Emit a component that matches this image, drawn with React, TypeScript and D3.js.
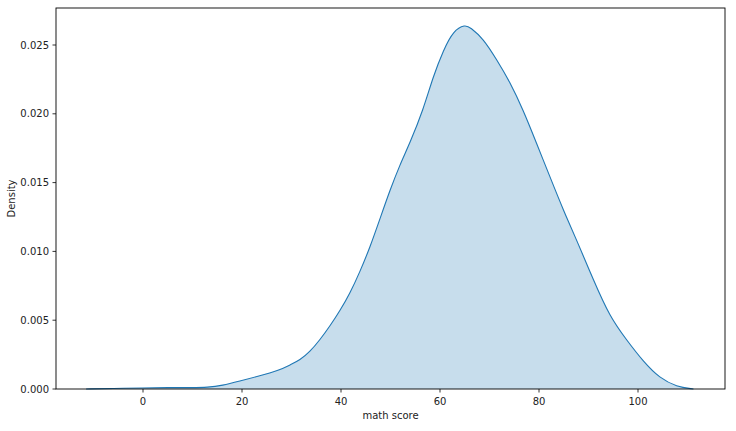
import React from "react";
import * as d3 from "d3";

const scores = [-11.5, -6, 0, 5, 10, 13, 16, 19.6, 23, 27.7, 29.7, 31.7, 33.7, 35.8, 37.8, 39.8, 41.8, 43.8, 45.9, 47.9, 49.9, 51.9, 53.9, 56.6, 58.6, 60.7, 62.7, 65.1, 66.1, 68.7, 71.5, 74.1, 76.8, 79.5, 82.2, 84.9, 87.6, 91.0, 94.3, 97.7, 101.1, 104.4, 107.8, 111.2];
const density = [0, 0.00004, 0.00008, 0.0001, 0.0001, 0.00012, 0.00025, 0.00058, 0.0009, 0.00138, 0.00175, 0.0021, 0.0027, 0.0036, 0.0046, 0.0057, 0.00695, 0.0085, 0.01034, 0.0124, 0.01446, 0.0163, 0.01786, 0.02028, 0.0227, 0.02464, 0.02605, 0.02648, 0.02628, 0.02549, 0.02391, 0.02233, 0.02028, 0.01786, 0.01543, 0.01301, 0.01083, 0.00792, 0.00525, 0.00356, 0.00198, 0.00078, 0.00017, 0];
const xTicks = [0, 20, 40, 60, 80, 100];
const yTicks = [0, 0.005, 0.01, 0.015, 0.02, 0.025];

const W = 736, H = 431;
const L = 56, R = 725, T = 8, B = 389;
const FONT = "DejaVu Sans, sans-serif";
const TXT = "#222";

export default function App() {
  const x = d3.scaleLinear().domain([0, 100]).range([143, 638]);
  const y = d3.scaleLinear().domain([0, 0.025]).range([B, 45]);
  const pts = scores.map((s, i) => [s, density[i]] as [number, number]);
  const area = d3.area<[number, number]>().x(d => x(d[0])).y0(y(0)).y1(d => y(d[1])).curve(d3.curveBasis);
  const line = d3.line<[number, number]>().x(d => x(d[0])).y(d => y(d[1])).curve(d3.curveBasis);
  return (
    <div style={{ position: "fixed", left: 0, top: 0 }}>
      <svg width={W} height={H} style={{ display: "block", background: "#fff" }}>
        <path d={area(pts) || ""} fill="#1f77b4" fillOpacity={0.25} stroke="none" />
        <path d={line(pts) || ""} fill="none" stroke="#1f77b4" strokeWidth={1.1} />
        <rect x={L} y={T} width={R - L} height={B - T} fill="none" stroke="#000" strokeWidth={0.9} />
        {xTicks.map(t => (
          <g key={"x" + t}>
            <line x1={x(t)} x2={x(t)} y1={B} y2={B + 3.5} stroke="#000" strokeWidth={0.8} />
            <text x={x(t)} y={405} textAnchor="middle" fontFamily={FONT} fontSize={10} fill={TXT}>{t}</text>
          </g>
        ))}
        {yTicks.map(t => (
          <g key={"y" + t}>
            <line x1={L - 3.5} x2={L} y1={y(t)} y2={y(t)} stroke="#000" strokeWidth={0.8} />
            <text x={L - 7} y={y(t) + 3.6} textAnchor="end" fontFamily={FONT} fontSize={10} fill={TXT}>{t.toFixed(3)}</text>
          </g>
        ))}
        <text x={(L + R) / 2} y={419} textAnchor="middle" fontFamily={FONT} fontSize={10} fill={TXT}>math score</text>
        <text transform={`translate(15,${(T + B) / 2}) rotate(-90)`} textAnchor="middle" fontFamily={FONT} fontSize={10} fill={TXT}>Density</text>
      </svg>
    </div>
  );
}
